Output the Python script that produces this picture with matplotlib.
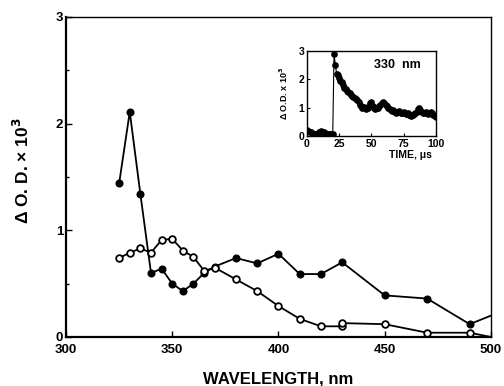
import matplotlib
matplotlib.use("Agg")
import matplotlib.pyplot as plt
from matplotlib.ticker import MultipleLocator

plt.rcParams['font.family'] = ['Liberation Sans', 'DejaVu Sans']
plt.rcParams['font.weight'] = 'bold'

# Main spectra
wl_filled = [325, 330, 335, 340, 345, 350, 355, 360, 365, 370, 380, 390, 400, 410, 420, 430, 450, 470, 490, 500]
od_filled = [1.44, 2.11, 1.34, 0.60, 0.64, 0.50, 0.43, 0.50, 0.60, 0.66, 0.74, 0.69, 0.78, 0.59, 0.59, 0.70, 0.39, 0.36, 0.12, 0.20]

wl_open = [325, 330, 335, 340, 345, 350, 355, 360, 365, 370, 380, 390, 400, 410, 420, 430, 430, 450, 470, 490, 500]
od_open = [0.74, 0.79, 0.83, 0.79, 0.91, 0.92, 0.81, 0.75, 0.62, 0.65, 0.54, 0.43, 0.29, 0.17, 0.10, 0.10, 0.13, 0.12, 0.04, 0.04, 0.00]

# Inset kinetic trace at 330 nm
inset_time = list(range(0, 101))
inset_od = [0.20, 0.18, 0.15, 0.12, 0.10, 0.08, 0.06, 0.05, 0.08, 0.12, 0.15, 0.16, 0.14, 0.12, 0.10, 0.06, 0.05, 0.04, 0.05, 0.06, 0.05,
            2.90, 2.50, 2.20, 2.15, 2.05, 1.95, 1.90, 1.80, 1.70, 1.65, 1.60, 1.55, 1.50, 1.45, 1.40, 1.38, 1.35, 1.30, 1.25, 1.20,
            1.10, 1.05, 1.00, 1.02, 0.98, 0.95, 1.00, 1.05, 1.15, 1.20, 1.05, 0.98, 0.95, 0.97, 1.00, 1.05, 1.10, 1.15, 1.18, 1.15,
            1.10, 1.05, 1.00, 0.95, 0.90, 0.88, 0.90, 0.85, 0.82, 0.85, 0.88, 0.85, 0.80, 0.82, 0.85, 0.80, 0.78, 0.80, 0.75, 0.72,
            0.70, 0.75, 0.78, 0.80, 0.85, 0.95, 1.00, 0.90, 0.85, 0.80, 0.82, 0.85, 0.80, 0.78, 0.82, 0.85, 0.80, 0.75, 0.70, 0.65]

fig = plt.figure(figsize=(5.04, 3.86), dpi=100)
ax = fig.add_axes([0.131, 0.127, 0.843, 0.829])

ax.plot(wl_filled, od_filled, '-', color='black', lw=1.3, marker='o', ms=4.8,
        mfc='black', mec='black', markevery=list(range(len(wl_filled) - 1)), zorder=3)
ax.plot(wl_open, od_open, '-', color='black', lw=1.3, marker='o', ms=4.8,
        mfc='white', mec='black', mew=1.3, markevery=list(range(len(wl_open) - 1)), zorder=4)

ax.set_xlim(300, 500)
ax.set_ylim(0, 3)
ax.set_xticks([300, 350, 400, 450, 500])
ax.set_yticks([0, 1, 2, 3])
ax.yaxis.set_minor_locator(MultipleLocator(0.5))
ax.tick_params(direction='in', length=4, width=1, labelsize=9.5, pad=2)
ax.tick_params(axis='x', pad=5)
ax.tick_params(which='minor', direction='in', length=2, width=1)
for lab in ax.get_xticklabels() + ax.get_yticklabels():
    lab.set_fontweight('bold')
ax.spines['left'].set_linewidth(1.6)
ax.spines['bottom'].set_linewidth(1.6)
ax.spines['top'].set_linewidth(1.0)
ax.spines['right'].set_linewidth(1.0)
ax.set_xlabel('WAVELENGTH, nm', fontsize=12, fontweight='bold', labelpad=11)
ax.set_ylabel('Δ O. D. × 10$^{\\mathbf{3}}$', fontsize=12.5, fontweight='bold')
ax.yaxis.set_label_coords(-0.079, 0.52)

# Inset
axi = fig.add_axes([0.609, 0.648, 0.256, 0.220])
axi.plot(inset_time, inset_od, '-', color='black', lw=0.8, marker='o', ms=3.8, mfc='black', mec='black')
axi.set_xlim(0, 100)
axi.set_ylim(0, 3)
axi.set_xticks([0, 25, 50, 75, 100])
axi.set_yticks([0, 1, 2, 3])
axi.tick_params(direction='in', length=2.5, width=0.8, labelsize=7.5, pad=2)
for lab in axi.get_xticklabels() + axi.get_yticklabels():
    lab.set_fontweight('bold')
for s in axi.spines.values():
    s.set_linewidth(1.0)
axi.set_xlabel('TIME, μs', fontsize=7.5, fontweight='bold')
axi.xaxis.set_label_coords(0.80, -0.17)
axi.set_ylabel('Δ O.D. x 10$^{\\mathbf{3}}$', fontsize=6.5, fontweight='bold', labelpad=6)
axi.text(0.52, 0.80, '330  nm', transform=axi.transAxes, fontsize=9, fontweight='bold')

fig.savefig('out.png', dpi=100)
